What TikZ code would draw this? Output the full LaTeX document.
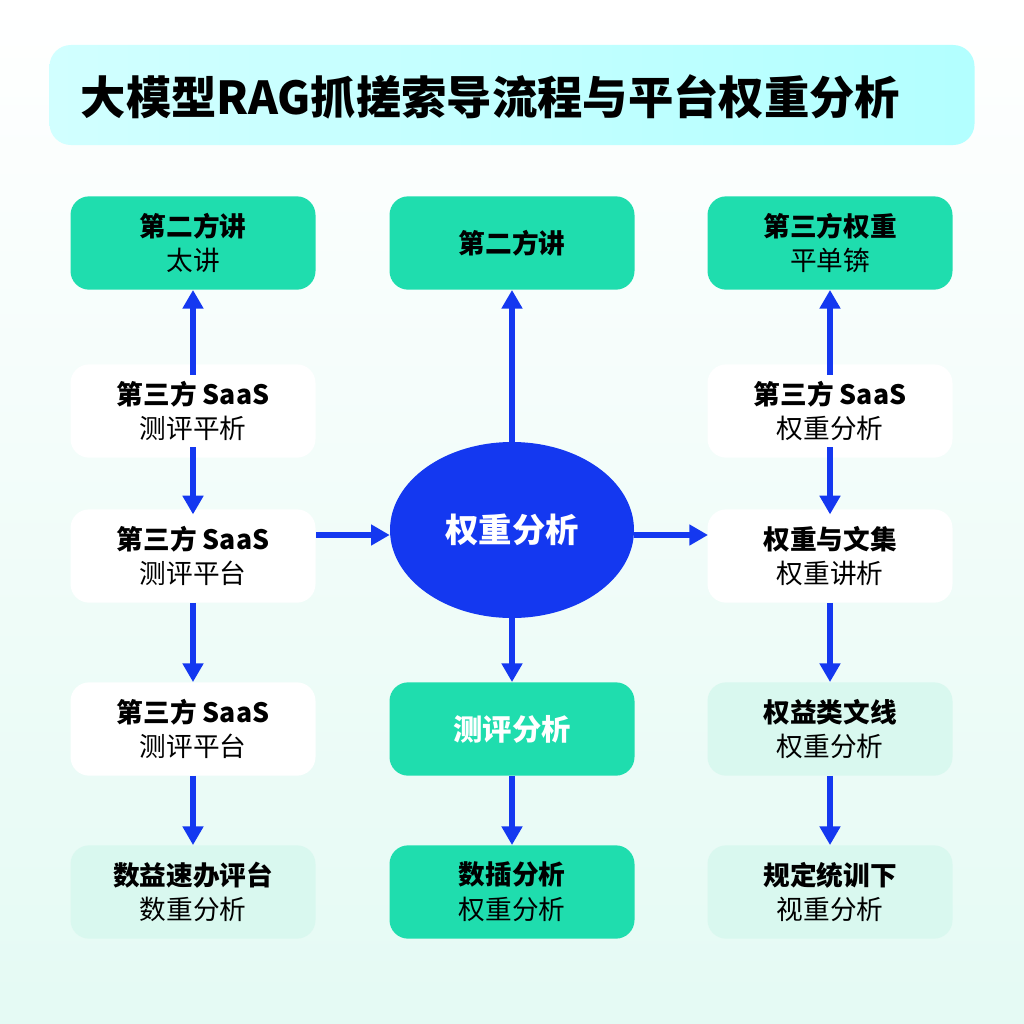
\documentclass[tikz,border=0pt]{standalone}
\usepackage{fontspec}
\setmainfont{Noto Sans CJK SC}
\usetikzlibrary{arrows.meta,shapes.geometric}
\definecolor{grn}{HTML}{1FDDAE}
\definecolor{mint}{HTML}{D9F8EF}
\definecolor{blu}{HTML}{1438F0}
\begin{document}
\begin{tikzpicture}[x=0.75pt,y=-0.75pt,
  box/.style={rounded corners=14pt,minimum width=183.75pt,minimum height=70pt,align=center,font=\fontsize{20}{26}\selectfont,inner sep=0pt},
  g/.style={box,fill=grn},
  w/.style={box,fill=white},
  m/.style={box,fill=mint},
  ar/.style={draw=blu,line width=3.8pt,-{Triangle[length=14pt,width=15pt]}}]
\useasboundingbox (0,0) rectangle (1024,1024);
\shade[top color=white,bottom color=mint!70] (0,0) rectangle (1024,1024);
\node[rounded corners=16pt,minimum width=693.75pt,minimum height=75pt,left color=cyan!18,right color=cyan!30,inner sep=0pt] (title) at (512,95) {};
\node[font=\bfseries\fontsize{34}{36}\selectfont,anchor=west] (tt) at (76,97) {大模型RAG抓搓索导流程与平台权重分析};
% left
\node[g] (l1) at (193,243) {\textbf{第二方讲}\\太讲};
\node[w] (l2) at (193,411) {\textbf{第三方 SaaS}\\测评平析};
\node[w] (l3) at (193,556) {\textbf{第三方 SaaS}\\测评平台};
\node[w] (l4) at (193,729) {\textbf{第三方 SaaS}\\测评平台};
\node[m] (l5) at (193,892) {\textbf{数益速办评台}\\数重分析};
% middle
\node[g] (m1) at (512,243) {\textbf{第二方讲}};
\node[ellipse,fill=blu,minimum width=183pt,minimum height=132pt,text=white,font=\bfseries\fontsize{25}{27}\selectfont] (c) at (512,530) {权重分析};
\node[g,text=white,font=\bfseries\fontsize{22}{24}\selectfont] (m2) at (512,729) {测评分析};
\node[g] (m3) at (512,892) {\textbf{数插分析}\\权重分析};
% right
\node[g] (r1) at (830,243) {\textbf{第三方权重}\\平单锛};
\node[w] (r2) at (830,411) {\textbf{第三方 SaaS}\\权重分析};
\node[w] (r3) at (830,556) {\textbf{权重与文集}\\权重讲析};
\node[m] (r4) at (830,729) {\textbf{权益类文线}\\权重分析};
\node[m] (r5) at (830,892) {\textbf{规定统训下}\\视重分析};
\coordinate (a1) at (316,535);
\coordinate (a2) at (708,535);
% arrows
\draw[ar] ([yshift=-8pt]l2.north) -- (l1.south);
\draw[ar] ([yshift=8pt]l2.south) -- ([yshift=-4pt]l3.north);
\draw[ar] (l3) -- (l4);
\draw[ar] (l4) -- (l5);
\draw[ar] (a1) -- (a1 -| c.west);
\draw[ar] (a2 -| c.east) -- (a2);
\draw[ar] (c.north) -- (m1.south);
\draw[ar] (c.south) -- (m2.north);
\draw[ar] (m2) -- (m3);
\draw[ar] ([yshift=-8pt]r2.north) -- (r1.south);
\draw[ar] ([yshift=8pt]r2.south) -- ([yshift=-4pt]r3.north);
\draw[ar] (r3) -- (r4);
\draw[ar] (r4) -- (r5);
\end{tikzpicture}
\end{document}
